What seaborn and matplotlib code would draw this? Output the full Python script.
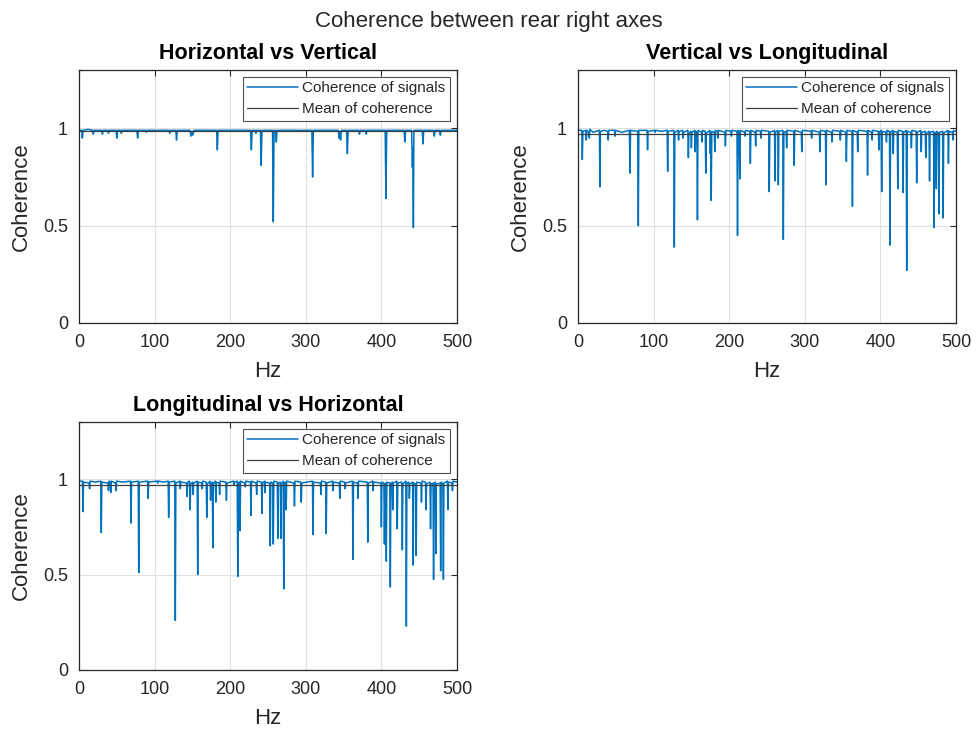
import matplotlib
matplotlib.use("Agg")
import matplotlib.pyplot as plt
import seaborn as sns
import pandas as pd

# ---------------- data ----------------
titles = ["Horizontal vs Vertical", "Vertical vs Longitudinal", "Longitudinal vs Horizontal"]
suptitle = "Coherence between rear right axes"
legend_labels = ["Coherence of signals", "Mean of coherence"]
x_ticks = [0, 100, 200, 300, 400, 500]
y_ticks = [0, 0.5, 1]
y_tick_labels = ["0", "0.5", "1"]

mean_coh = [0.988, 0.972, 0.968]

hz_hv = [0, 3.5, 4.4, 5.5, 12, 18, 19, 20, 30, 31, 32, 38, 39, 40,
         49, 50, 51, 55, 56, 57, 76.5, 77.6, 78.5, 88, 89, 90,
         102, 103, 104, 119, 120, 121, 128, 129, 130,
         147, 148, 149.5, 150.5, 152, 182, 183, 184, 227, 228, 229,
         233, 234, 235, 240, 241, 242, 256, 257, 258, 260, 261, 262,
         289, 290, 291, 308, 309, 310, 343, 344, 345, 346, 347,
         354, 355, 356, 370, 371, 372, 379, 380, 381,
         405, 406, 407, 430, 431, 432, 440, 441, 441.6, 442.3, 443,
         454, 455, 456, 469, 470, 471, 477, 478, 479, 500]
coh_hv = [0.99, 0.99, 0.95, 0.99, 0.995, 0.99, 0.97, 0.99, 0.99, 0.97, 0.99, 0.99, 0.975, 0.99,
          0.99, 0.95, 0.99, 0.99, 0.975, 0.99, 0.99, 0.95, 0.99, 0.99, 0.98, 0.99,
          0.99, 0.985, 0.99, 0.99, 0.975, 0.99, 0.99, 0.94, 0.99,
          0.99, 0.96, 0.985, 0.965, 0.99, 0.99, 0.89, 0.99, 0.99, 0.89, 0.99,
          0.99, 0.975, 0.99, 0.99, 0.81, 0.99, 0.99, 0.52, 0.99, 0.99, 0.93, 0.99,
          0.99, 0.985, 0.99, 0.99, 0.75, 0.99, 0.99, 0.95, 0.985, 0.94, 0.99,
          0.99, 0.87, 0.99, 0.99, 0.97, 0.99, 0.99, 0.97, 0.99,
          0.99, 0.64, 0.99, 0.99, 0.93, 0.99, 0.99, 0.80, 0.90, 0.49, 0.99,
          0.99, 0.92, 0.99, 0.99, 0.96, 0.99, 0.99, 0.965, 0.99, 0.99]

hz_vl = [0, 5, 5.7, 6.5, 10.3, 11, 11.7, 14.3, 15, 15.7, 20, 28.3, 29, 29.7, 35,
         39.3, 40, 40.7, 48.3, 49, 49.7, 58, 68, 68.8, 69.5, 79, 79.8, 80.5,
         91.3, 92, 92.7, 101.3, 102, 102.7, 110, 117.9, 118.6, 119.3,
         126.7, 127.4, 128.1, 132.3, 133, 133.7, 138.3, 139, 139.7,
         145.3, 146, 146.7, 149.3, 150, 150.7, 154.3, 155, 155.7,
         157.3, 158, 158.7, 163.3, 164, 164.7, 168.3, 169, 169.7,
         174.3, 175, 175.7, 176.2, 177, 180.3, 181, 181.7, 184.3, 185, 185.7,
         194.3, 195, 195.7, 202.3, 203, 203.7, 210.3, 211, 211.7,
         213.3, 214, 214.7, 220.3, 221, 221.7, 227.3, 228, 228.7,
         234.3, 235, 235.7, 241.3, 242, 242.7, 252.3, 253, 253.7,
         260, 260.6, 261.3, 264.3, 265, 265.7, 270.9, 271.6, 272.3,
         275.3, 276, 276.7, 285.3, 286, 286.7, 295.3, 296, 296.7,
         308.3, 309, 309.7, 319.3, 320, 320.7, 327.3, 328, 328.7,
         335.3, 336, 336.7, 346.3, 347, 347.7, 354.3, 355, 355.7,
         362.3, 363, 363.7, 369.3, 370, 370.7, 382.3, 383, 383.7,
         388.3, 389, 389.7, 397.3, 398, 398.7, 401, 401.7, 402.4,
         407.3, 408, 408.7, 412, 412.7, 413.4, 416.3, 417, 417.7,
         422.3, 423, 423.7, 429.3, 430, 430.7, 434.1, 434.8, 435.5,
         440.3, 441, 441.7, 447.3, 448, 448.7, 453.3, 454, 454.7,
         459.3, 460, 460.7, 464.3, 465, 465.7, 470.3, 471, 471.7,
         473.3, 474, 474.7, 476.8, 477.5, 478.2, 482.3, 483, 483.7,
         489.3, 490, 490.7, 495.3, 496, 496.7, 500]
coh_vl = [0.99, 0.99, 0.84, 0.985, 0.99, 0.94, 0.99, 0.98, 0.95, 0.995, 0.98, 0.99, 0.70, 0.985, 0.99,
          0.985, 0.94, 0.99, 0.99, 0.96, 0.99, 0.98, 0.99, 0.77, 0.99, 0.985, 0.50, 0.99,
          0.99, 0.89, 0.985, 0.99, 0.98, 0.99, 0.985, 0.99, 0.78, 0.985,
          0.99, 0.39, 0.98, 0.99, 0.94, 0.985, 0.99, 0.95, 0.98,
          0.99, 0.85, 0.975, 0.985, 0.90, 0.98, 0.99, 0.88, 0.985,
          0.98, 0.53, 0.99, 0.98, 0.93, 0.99, 0.985, 0.77, 0.975,
          0.99, 0.87, 0.98, 0.63, 0.985, 0.98, 0.88, 0.99, 0.985, 0.95, 0.99,
          0.98, 0.91, 0.99, 0.985, 0.96, 0.99, 0.985, 0.45, 0.99,
          0.98, 0.74, 0.99, 0.98, 0.96, 0.99, 0.985, 0.82, 0.99,
          0.98, 0.91, 0.99, 0.985, 0.95, 0.99, 0.985, 0.675, 0.98,
          0.99, 0.73, 0.98, 0.99, 0.71, 0.985, 0.99, 0.43, 0.98,
          0.985, 0.90, 0.99, 0.985, 0.81, 0.99, 0.98, 0.88, 0.99,
          0.985, 0.95, 0.99, 0.98, 0.88, 0.99, 0.985, 0.71, 0.99,
          0.98, 0.93, 0.99, 0.985, 0.94, 0.99, 0.98, 0.83, 0.99,
          0.985, 0.60, 0.99, 0.98, 0.88, 0.99, 0.985, 0.76, 0.99,
          0.98, 0.94, 0.99, 0.985, 0.89, 0.98, 0.99, 0.675, 0.985,
          0.98, 0.93, 0.99, 0.985, 0.40, 0.98, 0.99, 0.87, 0.985,
          0.98, 0.69, 0.99, 0.985, 0.67, 0.98, 0.99, 0.27, 0.985,
          0.98, 0.90, 0.99, 0.985, 0.72, 0.98, 0.99, 0.88, 0.98,
          0.985, 0.85, 0.975, 0.985, 0.73, 0.98, 0.985, 0.49, 0.975,
          0.98, 0.69, 0.985, 0.975, 0.56, 0.98, 0.985, 0.54, 0.975,
          0.99, 0.82, 0.985, 0.98, 0.94, 0.99, 0.985]

hz_lh = [0, 4.6, 5.3, 6, 13.3, 14, 14.7, 22, 28.8, 29.5, 30.2, 38.3, 39, 39.7,
         41.3, 42, 42.7, 48.3, 49, 49.7, 58, 68.1, 68.8, 69.5, 78.3, 79, 79.7,
         90.8, 91.5, 92.2, 103.3, 104, 104.7, 112, 117.9, 118.6, 119.3,
         126.7, 127.4, 128.1, 133.3, 134, 134.7, 142.3, 143, 143.7,
         146.3, 147, 147.7, 150.3, 151, 151.7, 156.3, 157, 157.7,
         162.3, 163, 163.7, 168.3, 169, 169.7, 173.3, 174, 174.7,
         176.3, 177, 177.7, 180.3, 181, 181.7, 185.3, 186, 186.7,
         194.3, 195, 195.7, 204.3, 205, 205.7, 209.3, 210, 210.7,
         212.3, 213, 213.7, 219.3, 220, 220.7, 226.8, 227.5, 228.2,
         234.3, 235, 235.7, 241.3, 242, 242.7, 245.3, 246, 246.7,
         252.3, 253, 253.7, 256.3, 257, 257.7, 262.3, 263, 263.7,
         266.3, 267, 267.7, 270.1, 270.8, 271.5, 273.3, 274, 274.7,
         284.3, 285, 285.7, 293.3, 294, 294.7, 308.8, 309.5, 310.2,
         319.3, 320, 320.7, 326.3, 327, 327.7, 335.3, 336, 336.7,
         344.3, 345, 345.7, 351.3, 352, 352.7, 361.7, 362.4, 363.1,
         368.3, 369, 369.7, 381.3, 382, 382.7, 388.3, 389, 389.7,
         399.3, 400, 400.7, 403.3, 404, 404.7, 405.8, 406.5, 407.2,
         411.1, 411.8, 412.5, 414.3, 415, 415.7, 420.3, 421, 421.7,
         427, 427.7, 428.4, 432.3, 433, 433.7, 436.3, 437, 437.7,
         441.3, 442, 442.7, 445.3, 446, 446.7, 452.3, 453, 453.7,
         458.3, 459, 459.7, 464.3, 465, 465.7, 468.3, 469, 469.7,
         471.3, 472, 472.7, 477.7, 478.4, 479.1, 481.3, 482, 482.7,
         487.3, 488, 488.7, 493.3, 494, 494.7, 500]
coh_lh = [0.99, 0.99, 0.83, 0.985, 0.98, 0.95, 0.99, 0.985, 0.99, 0.72, 0.985, 0.98, 0.94, 0.99,
          0.985, 0.93, 0.99, 0.98, 0.94, 0.99, 0.985, 0.99, 0.77, 0.985, 0.99, 0.51, 0.985,
          0.99, 0.90, 0.985, 0.99, 0.98, 0.99, 0.985, 0.99, 0.80, 0.985,
          0.99, 0.26, 0.98, 0.99, 0.95, 0.985, 0.98, 0.91, 0.985,
          0.99, 0.84, 0.975, 0.985, 0.92, 0.98, 0.99, 0.50, 0.985,
          0.98, 0.95, 0.99, 0.985, 0.80, 0.975, 0.99, 0.89, 0.98,
          0.985, 0.64, 0.98, 0.99, 0.88, 0.985, 0.98, 0.92, 0.99,
          0.985, 0.89, 0.98, 0.99, 0.97, 0.985, 0.99, 0.49, 0.98,
          0.985, 0.73, 0.99, 0.98, 0.96, 0.99, 0.985, 0.81, 0.99,
          0.98, 0.92, 0.99, 0.985, 0.82, 0.98, 0.99, 0.93, 0.985,
          0.98, 0.65, 0.985, 0.98, 0.66, 0.99, 0.985, 0.69, 0.98,
          0.985, 0.69, 0.975, 0.99, 0.425, 0.98, 0.985, 0.84, 0.99,
          0.98, 0.86, 0.99, 0.985, 0.88, 0.98, 0.99, 0.71, 0.985,
          0.98, 0.92, 0.99, 0.985, 0.715, 0.98, 0.99, 0.94, 0.985,
          0.98, 0.90, 0.99, 0.985, 0.95, 0.98, 0.99, 0.58, 0.985,
          0.98, 0.90, 0.99, 0.985, 0.67, 0.98, 0.99, 0.94, 0.985,
          0.98, 0.75, 0.985, 0.98, 0.66, 0.975, 0.98, 0.57, 0.985,
          0.98, 0.435, 0.975, 0.985, 0.84, 0.98, 0.99, 0.74, 0.98,
          0.985, 0.63, 0.975, 0.99, 0.23, 0.98, 0.985, 0.90, 0.975,
          0.985, 0.55, 0.98, 0.975, 0.60, 0.985, 0.98, 0.88, 0.99,
          0.985, 0.84, 0.975, 0.985, 0.74, 0.975, 0.98, 0.475, 0.975,
          0.985, 0.61, 0.975, 0.98, 0.52, 0.985, 0.975, 0.475, 0.98,
          0.99, 0.84, 0.985, 0.98, 0.94, 0.99, 0.985]

series_hz = [hz_hv, hz_vl, hz_lh]
series_coh = [coh_hv, coh_vl, coh_lh]

# ---------------- style ----------------
sns.set_theme(style="white")
plt.rcParams["font.family"] = ["Liberation Sans", "DejaVu Sans"]

signal_color = "#0072BD"
mean_color = "#404040"
axis_color = "#262626"

fig = plt.figure(figsize=(9.77, 7.36), dpi=100)
positions = [
    [79 / 977, 1 - 323 / 736, 378 / 977, 253 / 736],
    [578 / 977, 1 - 323 / 736, 378 / 977, 253 / 736],
    [79 / 977, 1 - 670 / 736, 378 / 977, 248 / 736],
]

for i in range(3):
    ax = fig.add_axes(positions[i])
    df = pd.DataFrame({"Hz": series_hz[i], "Coherence": series_coh[i]})
    sns.lineplot(data=df, x="Hz", y="Coherence", ax=ax, color=signal_color,
                 linewidth=1.1, sort=False, estimator=None,
                 label=legend_labels[0])
    ax.axhline(mean_coh[i], color=mean_color, linewidth=0.9, label=legend_labels[1])
    ax.set_xlim(0, 500)
    ax.set_ylim(0, 1.3)
    ax.set_xticks(x_ticks)
    ax.set_yticks(y_ticks)
    ax.set_yticklabels(y_tick_labels)
    ax.grid(True, color="#E0E0E0", linewidth=0.8)
    ax.set_axisbelow(True)
    for sp in ax.spines.values():
        sp.set_color(axis_color)
        sp.set_linewidth(0.9)
    ax.tick_params(direction="in", length=4, width=0.8, colors=axis_color,
                   labelsize=13, pad=8, top=True, right=True)
    for lab in ax.get_xticklabels() + ax.get_yticklabels():
        lab.set_color("#262626")
    ax.set_xlabel("Hz", fontsize=16, color="#262626", labelpad=7)
    ax.set_ylabel("Coherence", fontsize=16, color="#262626", labelpad=8)
    ax.set_title(titles[i], fontsize=15.5, fontweight="bold", color="black", pad=8)
    leg = ax.legend(loc="upper right", fontsize=11, frameon=True, fancybox=False,
                    handlelength=3.3, borderpad=0.3, labelspacing=0.45,
                    handletextpad=0.3, borderaxespad=0.45)
    leg.get_frame().set_edgecolor("#262626")
    leg.get_frame().set_linewidth(0.8)
    for t in leg.get_texts():
        t.set_color("#262626")

fig.suptitle(suptitle, fontsize=16, y=1 - 22 / 736, va="center", color="#262626")

fig.savefig("out.png", dpi=100, facecolor="white")
